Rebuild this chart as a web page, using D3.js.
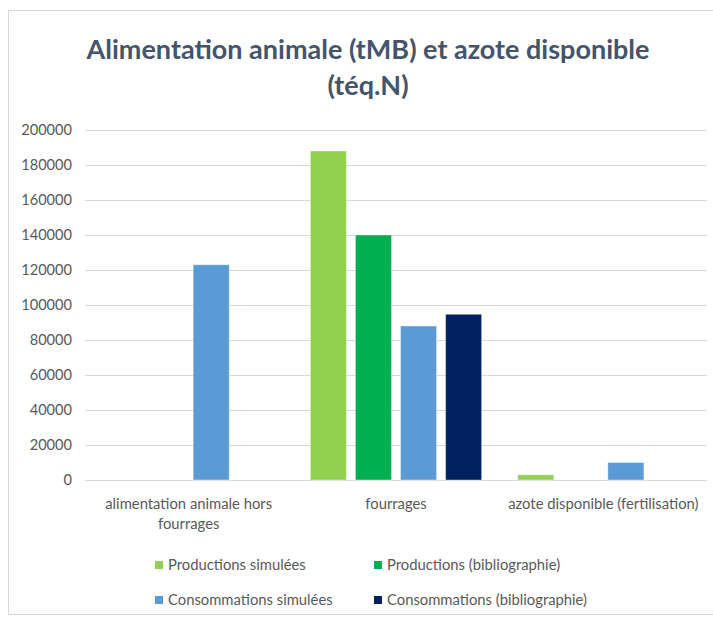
<!DOCTYPE html>
<html><head><meta charset="utf-8">
<script src="https://cdn.jsdelivr.net/npm/d3@7"></script>
<style>body{margin:0;background:#fff;} svg{display:block;font-family:Lato,"Open Sans",sans-serif;}</style>
</head><body>
<svg id="chart" width="713" height="619"></svg>
<script>
const categories = ["alimentation animale hors fourrages", "fourrages", "azote disponible (fertilisation)"];
const seriesNames = ["Productions simulées", "Productions (bibliographie)", "Consommations simulées", "Consommations (bibliographie)"];
const seriesColors = ["#92D050", "#00B050", "#5B9BD5", "#002060"];
const prodSimulees = [0, 188000, 3000];
const prodBiblio = [0, 140000, 0];
const consoSimulees = [123000, 88000, 10000];
const consoBiblio = [0, 94700, 0];
const yTicks = [0, 20000, 40000, 60000, 80000, 100000, 120000, 140000, 160000, 180000, 200000];
const titleLines = ["Alimentation animale (tMB) et azote disponible", "(téq.N)"];

const seriesValues = [prodSimulees, prodBiblio, consoSimulees, consoBiblio];
const svg = d3.select("#chart");

// chart area border
svg.append("rect").attr("x", 8.5).attr("y", 10.5).attr("width", 730).attr("height", 604)
  .attr("fill", "#fff").attr("stroke", "#D9D9D9").attr("stroke-width", 1);

// title
const title = svg.append("text").attr("text-anchor", "middle").attr("fill", "#44546A")
  .attr("font-size", 27).attr("font-weight", "bold");
titleLines.forEach((t, i) => {
  title.append("tspan").attr("x", 368).attr("y", 59 + i * 36).text(t);
});

const pLeft = 85, pRight = 707, pTop = 130, pBottom = 480;
const y = d3.scaleLinear().domain([0, 200000]).range([pBottom, pTop]);
const x0 = d3.scaleBand().domain(categories).range([pLeft, pRight]).padding(0);
const x1 = d3.scaleBand().domain(d3.range(seriesNames.length)).range([0, x0.bandwidth()])
  .paddingInner(0.2).paddingOuter(0.4);

// gridlines
const grid = svg.append("g").attr("transform", `translate(${pLeft},0)`)
  .call(d3.axisLeft(y).tickValues(yTicks).tickSize(-(pRight - pLeft)).tickFormat(""));
grid.select(".domain").remove();
grid.selectAll("line").attr("stroke", "#D9D9D9").attr("stroke-width", 1);

// y axis labels
const ya = svg.append("g").attr("transform", `translate(${pLeft},0)`)
  .call(d3.axisLeft(y).tickValues(yTicks).tickSize(0).tickPadding(13).tickFormat(d3.format("d")));
ya.select(".domain").remove();
ya.selectAll("text").attr("fill", "#595959").attr("font-size", 14.6).attr("font-family", "Lato, sans-serif");

// bars
const groups = svg.append("g").selectAll("g").data(categories).join("g")
  .attr("transform", d => `translate(${x0(d)},0)`);
groups.selectAll("rect").data((d, ci) => seriesValues.map((s, si) => ({si, v: s[ci]})).filter(o => o.v > 0))
  .join("rect")
  .attr("x", d => x1(d.si)).attr("width", x1.bandwidth())
  .attr("y", d => y(d.v)).attr("height", d => y(0) - y(d.v))
  .attr("fill", d => seriesColors[d.si])
  .attr("stroke", "#ffffff").attr("stroke-opacity", 0.4).attr("stroke-width", 1);

// x axis labels
const xa = svg.append("g").attr("transform", `translate(0,${pBottom})`)
  .call(d3.axisBottom(x0).tickSize(0).tickPadding(18));
xa.select(".domain").remove();
xa.selectAll("text").attr("fill", "#595959").attr("font-size", 14.8).attr("font-family", "Lato, sans-serif")
  .each(function(d) {
    const el = d3.select(this);
    const words = d.split(" ");
    const maxW = 200;
    el.text(null);
    let line = [], lineNum = 0;
    const yv = el.attr("y");
    let tspan = el.append("tspan").attr("x", 0).attr("y", yv).attr("dy", "0.71em");
    words.forEach(w => {
      line.push(w);
      tspan.text(line.join(" "));
      if (tspan.node().getComputedTextLength() > maxW && line.length > 1) {
        line.pop();
        tspan.text(line.join(" "));
        line = [w];
        lineNum++;
        tspan = el.append("tspan").attr("x", 0).attr("y", yv).attr("dy", (0.71 + lineNum * 1.38) + "em").text(w);
      }
    });
  });

// legend
const legendPos = [[155, 565], [374, 565], [155, 600], [374, 600]];
const legend = svg.append("g").selectAll("g").data(seriesNames).join("g")
  .attr("transform", (d, i) => `translate(${legendPos[i][0]},${legendPos[i][1]})`);
legend.append("rect").attr("x", 0).attr("y", -4).attr("width", 8).attr("height", 8)
  .attr("fill", (d, i) => seriesColors[i]);
legend.append("text").attr("x", 13).attr("y", 0).attr("dy", "0.35em")
  .attr("fill", "#595959").attr("font-size", 14.8).text(d => d);
</script>
</body></html>
